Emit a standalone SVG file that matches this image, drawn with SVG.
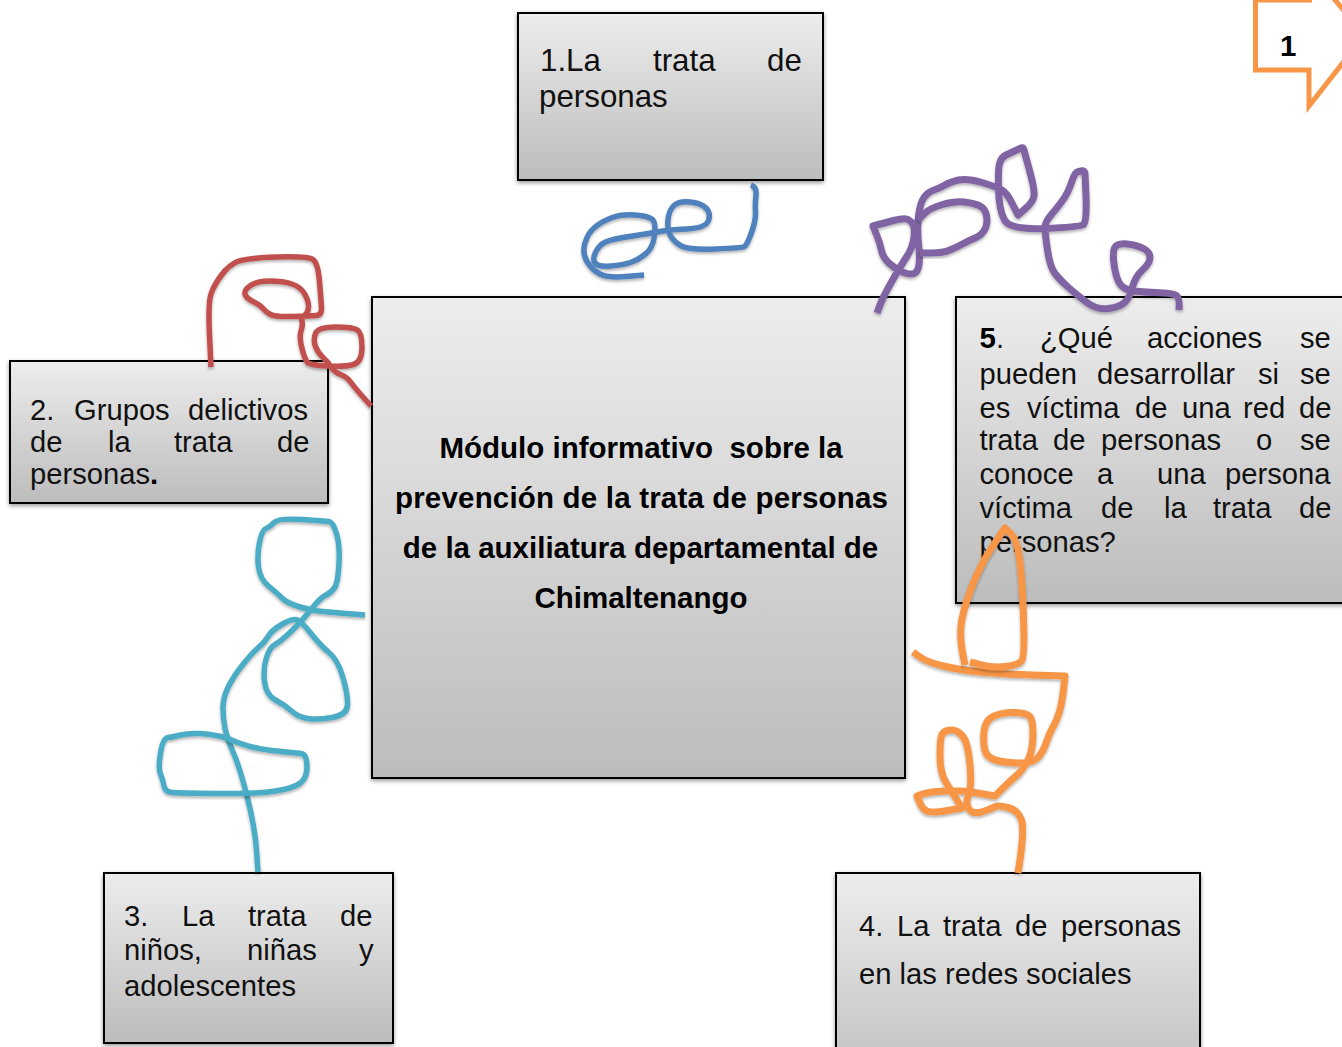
<svg xmlns="http://www.w3.org/2000/svg" width="1342" height="1047" viewBox="0 0 1342 1047">
<style>
.box{stroke:#000;stroke-width:2;filter:url(#bs)}
.t{font-family:"Liberation Sans",Arial,sans-serif;font-size:29.2px;fill:#111;white-space:pre}
.b{font-weight:bold;fill:#000;font-size:29.5px}
.ink{fill:none;stroke-width:5.5;stroke-linejoin:round;stroke-linecap:butt;filter:url(#is)}
.thick{stroke-width:7}
</style>
<defs>
<linearGradient id="g" x1="0" y1="0" x2="0" y2="1"><stop offset="0" stop-color="#ededed"/><stop offset="1" stop-color="#bcbcbc"/></linearGradient>
<filter id="bs" x="-5%" y="-5%" width="110%" height="110%"><feDropShadow dx="0" dy="2" stdDeviation="2" flood-color="#000" flood-opacity=".4"/></filter>
<filter id="is" x="-10%" y="-10%" width="120%" height="120%"><feDropShadow dx="0" dy="2" stdDeviation="1.5" flood-color="#000" flood-opacity=".3"/></filter>
</defs>
<rect width="1342" height="1047" fill="#fff"/>
<g id="node-callout">
<path d="M1312,0H1255.500V70H1309V106L1345,60M1331,-5L1345,12" fill="none" stroke="#F79646" stroke-width="5"/>
<text class="t b" x="1280" y="56">1</text>
</g>
<g id="node-1">
<rect class="box" x="518" y="13" width="305" height="167" fill="url(#g)"/>
<text class="t" y="71" style="font-size:31.300px"><tspan x="540">1.La </tspan><tspan x="653">trata </tspan><tspan x="767">de</tspan></text>
<text class="t" x="539" y="107" style="font-size:31.300px">personas</text>
</g>
<g id="node-central">
<rect class="box" x="372" y="297" width="533" height="481" fill="url(#g)"/>
<text class="t b" x="641" y="458" text-anchor="middle">Módulo informativo  sobre la</text>
<text class="t b" x="641.500" y="508" text-anchor="middle" textLength="493">prevención de la trata de personas</text>
<text class="t b" x="640.500" y="558" text-anchor="middle">de la auxiliatura departamental de</text>
<text class="t b" x="641" y="608" text-anchor="middle">Chimaltenango</text>
</g>
<g id="node-2">
<rect class="box" x="10" y="361" width="318" height="142" fill="url(#g)"/>
<text class="t" y="420"><tspan x="30">2. </tspan><tspan x="74">Grupos </tspan><tspan x="188">delictivos</tspan></text>
<text class="t" y="452"><tspan x="30">de </tspan><tspan x="108">la </tspan><tspan x="174">trata </tspan><tspan x="277">de</tspan></text>
<text class="t" x="30" y="484">personas<tspan class="b">.</tspan></text>
</g>
<g id="node-3">
<rect class="box" x="104" y="873" width="289" height="170" fill="url(#g)"/>
<text class="t" y="926"><tspan x="124">3. </tspan><tspan x="182">La </tspan><tspan x="248">trata </tspan><tspan x="340">de</tspan></text>
<text class="t" y="960"><tspan x="124">niños, </tspan><tspan x="247">niñas </tspan><tspan x="359">y</tspan></text>
<text class="t" x="124" y="996">adolescentes</text>
</g>
<g id="node-4">
<rect class="box" x="836" y="873" width="364" height="230" fill="url(#g)"/>
<text class="t" y="936"><tspan x="859">4. </tspan><tspan x="897">La </tspan><tspan x="943">trata </tspan><tspan x="1015">de </tspan><tspan x="1061">personas</tspan></text>
<text class="t" x="859" y="984">en las redes sociales</text>
</g>
<g id="node-5">
<rect class="box" x="956" y="297" width="400" height="306" fill="url(#g)"/>
<text class="t" y="348"><tspan x="979.500" class="b">5</tspan><tspan>. </tspan><tspan x="1040">¿Qué </tspan><tspan x="1147">acciones </tspan><tspan x="1300">se</tspan></text>
<text class="t" y="384"><tspan x="979.500">pueden </tspan><tspan x="1097">desarrollar </tspan><tspan x="1258">si </tspan><tspan x="1300">se</tspan></text>
<text class="t" y="418"><tspan x="979.500">es </tspan><tspan x="1027">víctima </tspan><tspan x="1135">de </tspan><tspan x="1182">una </tspan><tspan x="1243">red </tspan><tspan x="1299">de</tspan></text>
<text class="t" y="450"><tspan x="979.500">trata </tspan><tspan x="1053">de </tspan><tspan x="1101">personas </tspan><tspan x="1256">o </tspan><tspan x="1300">se</tspan></text>
<text class="t" y="484"><tspan x="979.500">conoce </tspan><tspan x="1097">a </tspan><tspan x="1157">una </tspan><tspan x="1225">persona</tspan></text>
<text class="t" y="518"><tspan x="979.500">víctima </tspan><tspan x="1101">de </tspan><tspan x="1164">la </tspan><tspan x="1213">trata </tspan><tspan x="1299">de</tspan></text>
<text class="t" x="979.500" y="552">personas?</text>
</g>
<g id="connectors">
<path class="ink" stroke="#4F81BD" d="M644,275L626,276.500Q608,278 600,274T587,261.500T585,243T594.500,227.500T611,218T635,215T652.500,219.500T654.500,235.500T645.500,254T630.500,262.500T611,266T595.500,263.500T595.500,252.500T605.500,242T632.500,236T660,231.500T686.500,229T708.500,220.500T706,208T690,202T674,205.500T668,220T671,236.500T682.500,246.500T716,249T744.500,246.500T751.500,232.500T755.500,211.500T756,195T751,185"/>
<path class="ink" stroke="#C0504D" d="M211,367L209.500,335Q208,303 211,294T221.500,275T237.500,261.500T277,257T313,259.500T319.500,281.500T321.500,307.500T316,315.500T292.500,316.500T270.500,314.500T263,308.500T253,301.500T245,294T250.500,285.500T270,281T292,284T305,294.500T308.500,307.500T304.500,315.500T302,321.500T301,331T302,348.500T307.500,362.500T327.500,366T353.500,364.500T362,347.500T357.500,330T335.500,327T315.500,333.500T315.500,346.500T323.500,358T331.500,367.500T340.500,374.500T351,382.500T363,397T371,406"/>
<path class="ink" stroke="#4BACC6" d="M365,615L346,613.500Q327,612 318.500,611T298.500,606.500T282,598T268.500,586T258.500,567T259.500,542.500T266,528.500T274,522.500T301.500,519.500T329,521.500T336.500,533.500T339,563.500T335,587T326,595T311.500,609T291.500,631T275,644.500T266.500,657.500T264.500,681.500T275.500,700T291.500,711T307.500,718.500T332,717.500T347.500,705T343,677.500T329,652.500T311,633.500T297.500,620T282.500,624T268.500,636T258.500,647.500T242.500,665T228,687.500T223,708T225,728T233.500,753T247.500,798T256.500,850T258,872"/>
<path class="ink" stroke="#4BACC6" d="M227,738Q248,748 271.500,750.500T301,753.500T307,767T297,785T268.500,792T215,793.500T172.500,792.500T164,786T160.500,774T160.500,753T168,737.500T180.500,735T200,733.500T227,738"/>
<path class="ink thick" stroke="#8064A2" d="M877,313L880,305Q883,297 891.500,282T906.500,257T914,237T912.500,223.500T906.500,219T888,222L873,226L876.500,234.500Q880,243 881.500,250.500T890,264T903.500,272.500T914,273.500T919,264.500T918.500,243.500T918.500,216.500T924,197.500T934,190T945,185T958.500,180T982,182.500T1002,190T1012.500,204L1018,215L1025.500,208.500Q1033,202 1034,196T1029,168.500L1024,150Q1023,146 1019,149L1006,155Q1002,157 1000,162T998.500,188.500T1004.500,220T1045,228.500T1083.500,224.500T1086,196L1085,174Q1085,170 1081,171L1077,172Q1075,172 1071.500,182.500T1062.500,200.500T1051,215T1045,227.500T1047.500,250T1055,273.500T1068.500,287.500T1087,302.500T1108.500,308.500T1125,302T1132.500,287T1142.500,270T1150,257.500T1143.500,248.500T1127,244T1114.500,248T1115,270T1127.500,289.500T1155,292.500T1176.500,295.500T1179,310"/>
<path class="ink thick" stroke="#8064A2" d="M920,253L931.500,253Q943,253 950,250T962.500,244T975,238T985,229T986.500,215.500T979,205.500T964,202T942.500,204.500T924,214T918,220"/>
<path class="ink thick" stroke="#F79646" d="M913,652L920,657Q927,662 943.500,666T980,672T1032.500,675L1065,676L1063.500,689.500Q1062,703 1059.500,711.500T1053.500,726T1046.500,742T1038,757.500T1020,763T997,760.500T985,750.500T984,731.500T994,716T1015,712.500T1030,716.500T1033,735T1028,760T1016.500,775.500T1002.500,788.500L995,796L977.500,793Q960,790 944,791T922.500,794L917,796L920,803Q923,810 928,811.500T947.500,810.500L962,808L957,800Q952,792 946,782.500T940,755T942.500,733.500T951.500,730T963,736.500T970,765T968.500,795T969,809T983,811.500T995.500,806.500T1008,807.500T1021.500,820T1018,873"/>
<path class="ink thick" stroke="#F79646" d="M965,665L962.500,652.500Q960,640 961,626.500T971,589T992.500,546.500L1005,528L1011,534Q1017,540 1019.500,558.500T1023.500,617T1021.500,661T1005.500,666.500T981.500,665T970,662"/>
</g>
</svg>
